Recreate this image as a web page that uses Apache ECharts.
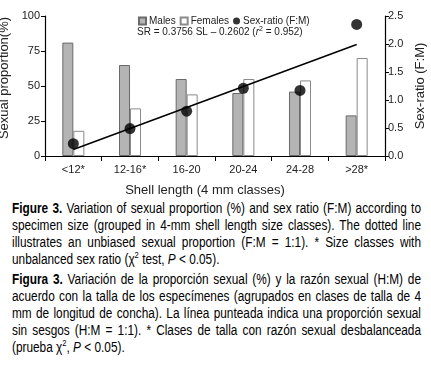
<!DOCTYPE html>
<html>
<head>
<meta charset="utf-8">
<script src="https://cdn.jsdelivr.net/npm/echarts@6/dist/echarts.min.js"></script>
<style>
  body { margin: 0; background: #fff; }
  #chart { position: absolute; left: 0; top: 0; width: 431px; height: 200px; }
  #caption {
    position: absolute; left: 12px; top: 200px; width: 484px;
    transform: scaleX(0.845); transform-origin: 0 0;
    font-family: 'Liberation Sans', Arial, sans-serif;
    font-size: 14px; line-height: 17px; color: #000; text-align: justify;
  }
  #caption p { margin: 0 0 3px 0; }
  #caption sup { font-size: 9px; line-height: 0; }
</style>
</head>
<body>
<div id="chart"></div>
<div id="caption">
  <p><b>Figure 3.</b> Variation of sexual proportion (%) and sex ratio (F:M) according to specimen size (grouped in 4-mm shell length size classes). The dotted line illustrates an unbiased sexual proportion (F:M = 1:1). * Size classes with unbalanced sex ratio (&chi;<sup>2</sup> test, <i>P</i> &lt; 0.05).</p>
  <p><b>Figura 3.</b> Variación de la proporción sexual (%) y la razón sexual (H:M) de acuerdo con la talla de los especímenes (agrupados en clases de talla de 4 mm de longitud de concha). La línea punteada indica una proporción sexual sin sesgos (H:M = 1:1). * Clases de talla con razón sexual desbalanceada (prueba &chi;<sup>2</sup>, <i>P</i> &lt; 0.05).</p>
</div>
<script>
var fontName = "'Liberation Sans', Arial, sans-serif";

var sizeClasses = ['<12*', '12-16*', '16-20', '20-24', '24-28', '>28*'];
var males       = [81, 65, 55, 45, 46, 29];
var females     = [18, 34, 44, 55, 54, 70];
var sexRatio    = [0.22, 0.49, 0.80, 1.21, 1.17, 2.35];
// fitted line SR = 0.3756 SL - 0.2602, read at first and last class
var fitLine     = [['<12*', 0.115], ['>28*', 1.99]];

var chart = echarts.init(document.getElementById('chart'));

var option = {
    animation: false,
    textStyle: { fontFamily: fontName },
    grid: { left: 45, right: 46, top: 16, bottom: 44, outerBoundsMode: 'none' },
    legend: {
        left: 133,
        top: 11,
        itemWidth: 7,
        itemHeight: 7,
        itemGap: 4,
        textStyle: { fontSize: 10, color: '#222', fontFamily: fontName, padding: [0, 0, 0, -2] },
        data: [
            { name: 'Males', icon: 'rect' },
            { name: 'Females', icon: 'rect' },
            { name: 'Sex-ratio (F:M)', icon: 'circle' }
        ]
    },
    graphic: [{
        type: 'text',
        left: 137,
        top: 26,
        style: {
            text: 'SR = 0.3756 SL \u2013 0.2602 ({i|r}{s|2} = 0.952)',
            font: '10px ' + fontName,
            fill: '#222',
            rich: {
                i: { fontStyle: 'italic', fontSize: 10, fontFamily: fontName, fill: '#222' },
                s: { fontSize: 7, verticalAlign: 'top', padding: [0, 0, 5, 0], fontFamily: fontName, fill: '#222' }
            }
        }
    }],
    xAxis: {
        type: 'category',
        data: sizeClasses,
        name: 'Shell length (4 mm classes)',
        nameLocation: 'middle',
        nameGap: 28,
        nameTextStyle: { fontSize: 13, color: '#222', padding: [0, 20, 0, 0] },
        axisLine: { lineStyle: { color: '#000', width: 1.2 } },
        axisTick: { show: true, length: 5, lineStyle: { color: '#000' } },
        axisLabel: { fontSize: 11, color: '#222', margin: 8 }
    },
    yAxis: [{
        type: 'value',
        min: 0,
        max: 100,
        interval: 25,
        name: 'Sexual proportion(%)',
        nameLocation: 'middle',
        nameGap: 25,
        nameTextStyle: { fontSize: 13, color: '#222', padding: [0, 0, 0, 16] },
        axisLine: { show: true, lineStyle: { color: '#000', width: 1.2 } },
        axisTick: { show: true, length: 4, lineStyle: { color: '#000' } },
        axisLabel: { fontSize: 11, color: '#222', margin: 5 },
        splitLine: { show: false }
    }, {
        type: 'value',
        min: 0,
        max: 2.5,
        interval: 0.5,
        name: 'Sex-ratio (F:M)',
        nameLocation: 'middle',
        nameRotate: 90,
        nameGap: 25,
        nameTextStyle: { fontSize: 13, color: '#222' },
        axisLine: { show: true, lineStyle: { color: '#000', width: 1.2 } },
        axisTick: { show: true, length: 4, lineStyle: { color: '#000' } },
        axisLabel: { fontSize: 11, color: '#222', margin: 3, formatter: function (v) { return v.toFixed(1); } },
        splitLine: { show: false }
    }],
    series: [{
        name: 'Males',
        type: 'bar',
        data: males,
        barWidth: 11,
        barGap: '0%',
        itemStyle: { color: '#b4b4b4', borderColor: '#6a6a6a', borderWidth: 1 }
    }, {
        name: 'Females',
        type: 'bar',
        data: females,
        barWidth: 11,
        itemStyle: { color: '#ffffff', borderColor: '#8a8a8a', borderWidth: 1 }
    }, {
        name: 'fit',
        type: 'line',
        yAxisIndex: 1,
        data: fitLine,
        symbol: 'none',
        lineStyle: { color: '#000', width: 1.5 },
        z: 3
    }, {
        name: 'Sex-ratio (F:M)',
        type: 'scatter',
        yAxisIndex: 1,
        data: sexRatio,
        symbolSize: 11,
        itemStyle: { color: '#000' },
        z: 4
    }]
};

chart.setOption(option);
</script>
</body>
</html>
